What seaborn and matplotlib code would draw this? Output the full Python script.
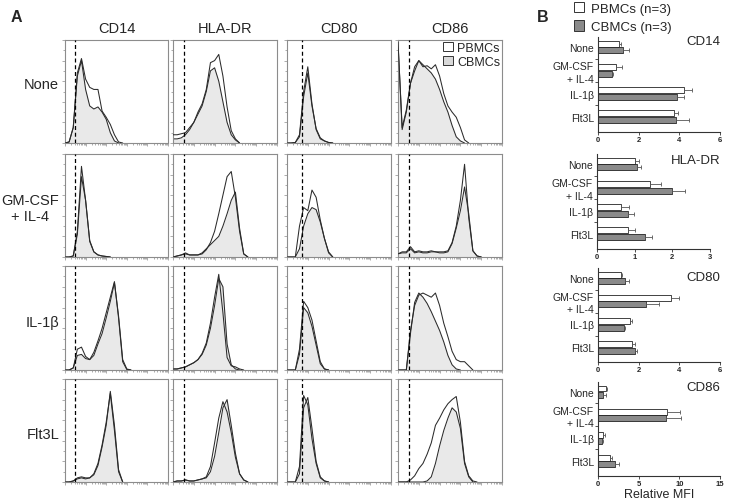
import numpy as np
import pandas as pd
import matplotlib
matplotlib.use("Agg")
import matplotlib.pyplot as plt
from matplotlib.patches import Patch
import seaborn as sns

# ---- panel A: histogram data (% of panel height) on a shared log-channel grid ----
channel = [0.00, 0.04, 0.08, 0.12, 0.16, 0.20, 0.24, 0.28, 0.32, 0.36, 0.40, 0.44, 0.48,
           0.52, 0.56, 0.60, 0.64, 0.68, 0.72, 0.76, 0.80, 0.84, 0.88, 0.92, 0.96, 1.00]
markers = ["CD14", "HLA-DR", "CD80", "CD86"]
isotype_gate = [0.097, 0.106, 0.145, 0.11]

# each list: [CD14, HLA-DR, CD80, CD86]
pbmc_none = [
    [0, 1, 15, 68, 82, 62, 54, 52, 52, 31, 25, 18, 8, 1, 0],
    [8, 8, 9, 10, 15, 20, 30, 38, 52, 78, 80, 86, 65, 35, 12, 4, 0],
    [0, 0, 0.5, 8, 50, 74, 38, 13, 4, 2, 0.5, 0],
    [98, 15, 32, 58, 70, 80, 74, 75, 72, 76, 65, 48, 36, 30, 25, 15, 3, 0],
]
cbmc_none = [
    [0, 1, 15, 65, 80, 52, 36, 33, 35, 30, 23, 10, 2, 0],
    [4, 4, 5, 8, 13, 20, 28, 36, 50, 70, 73, 60, 40, 20, 8, 3, 0],
    [0, 0, 0.5, 6, 45, 68, 36, 14, 5, 2, 0.5, 0],
    [98, 13, 30, 58, 74, 80, 76, 72, 68, 62, 52, 40, 30, 17, 6, 2, 0],
]
pbmc_gm = [
    [0, 0, 1, 25, 88, 55, 15, 5, 2, 1, 0.5, 0],
    [0, 1, 2, 4, 2, 2, 2, 3, 7, 14, 25, 42, 60, 78, 83, 58, 25, 3, 0],
    [0, 0, 0, 30, 48, 45, 65, 58, 36, 18, 4, 0],
    [3, 5, 5, 10, 5, 6, 5, 5, 6, 5, 5, 5, 6, 14, 30, 55, 90, 38, 6, 1, 0],
]
cbmc_gm = [
    [0, 0, 1, 22, 78, 55, 16, 5, 2, 1, 0.5, 0],
    [0, 1, 2, 3, 2, 2, 2, 4, 8, 12, 16, 20, 30, 42, 55, 63, 28, 3, 0],
    [0, 0, 0, 8, 30, 42, 48, 46, 34, 18, 5, 0],
    [3, 4, 4, 8, 4, 5, 4, 4, 5, 5, 4, 4, 5, 13, 28, 45, 68, 42, 6, 1, 0],
]
pbmc_il1b = [
    [0, 0, 2, 20, 22, 13, 10, 17, 28, 40, 55, 70, 85, 50, 8, 0.5, 0],
    [1, 1, 2, 3, 5, 7, 10, 16, 26, 45, 70, 92, 55, 12, 4, 3, 1, 0],
    [0, 0, 0, 20, 66, 60, 48, 28, 8, 1, 0],
    [0, 0, 0, 38, 62, 72, 74, 72, 70, 74, 62, 45, 32, 18, 10, 8, 8, 4, 0],
]
cbmc_il1b = [
    [0, 0, 2, 14, 15, 11, 10, 14, 25, 35, 50, 66, 84, 52, 10, 1, 0],
    [1, 1, 2, 3, 5, 7, 10, 15, 24, 40, 62, 88, 80, 25, 5, 1, 0],
    [0, 0, 0, 15, 60, 55, 42, 24, 6, 1, 0],
    [0, 0, 0, 35, 65, 74, 70, 64, 56, 47, 38, 27, 14, 5, 1, 0],
]
pbmc_flt3l = [
    [0, 0, 1, 4, 5, 4, 4, 8, 18, 36, 58, 86, 50, 10, 0],
    [0, 1, 1, 2, 1, 1, 2, 3, 5, 15, 38, 62, 78, 68, 48, 24, 8, 2, 0],
    [0, 0, 0, 15, 84, 75, 42, 18, 4, 1, 0],
    [0, 0, 0, 2, 6, 13, 18, 27, 38, 55, 62, 70, 76, 80, 83, 58, 20, 6, 1, 0],
]
cbmc_flt3l = [
    [0, 0, 1, 3, 4, 3, 4, 7, 16, 34, 55, 88, 55, 12, 0],
    [0, 1, 1, 2, 1, 1, 2, 3, 4, 10, 25, 48, 72, 80, 55, 28, 8, 2, 0],
    [0, 0, 0, 8, 72, 82, 52, 20, 5, 1, 0],
    [0, 0, 0, 0, 0, 0, 0, 1, 5, 18, 35, 50, 62, 72, 68, 52, 18, 5, 0],
]
row_labels = ["None", "GM-CSF\n+ IL-4", "IL-1\u03b2", "Flt3L"]

# ---- panel B: relative MFI (rows = CD14, HLA-DR, CD80, CD86) ----
treatments = ["None", "GM-CSF\n+ IL-4", "IL-1\u03b2", "Flt3L"]
pbmc_mfi = [[1.04, 0.87, 4.24, 3.73],
            [1.00, 1.40, 0.65, 0.83],
            [1.11, 3.57, 1.57, 1.66],
            [0.95, 8.47, 0.66, 1.49]]
pbmc_sem = [[0.08, 0.30, 0.36, 0.18],
            [0.12, 0.29, 0.20, 0.19],
            [0.09, 0.41, 0.12, 0.16],
            [0.21, 1.63, 0.21, 0.29]]
cbmc_mfi = [[1.23, 0.67, 3.87, 3.82],
            [1.05, 1.98, 0.81, 1.27],
            [1.31, 2.38, 1.28, 1.82],
            [0.66, 8.30, 0.54, 2.07]]
cbmc_sem = [[0.30, 0.07, 0.36, 0.67],
            [0.13, 0.36, 0.17, 0.20],
            [0.21, 0.62, 0.05, 0.08],
            [0.29, 1.95, 0.12, 0.53]]
mfi_max = [6, 3, 6, 15]
mfi_ticks = [[0, 2, 4, 6], [0, 1, 2, 3], [0, 2, 4, 6], [0, 5, 10, 15]]

W, H = 740, 502
LINE = "#2b2b2b"
FILL = "#e9e9e9"
SPINE = "#8c8c8c"
BAR_GREY = "#8a8a8a"

sns.set_theme(style="white")
plt.rcParams["font.family"] = ["Liberation Sans", "DejaVu Sans"]


def px_rect(l, t, r, b):
    return [l / W, 1 - b / H, (r - l) / W, (b - t) / H]


def ftext(x, y, s, **kw):
    fig.text(x / W, 1 - y / H, s, **kw)


fig = plt.figure(figsize=(7.4, 5.02), dpi=100)

# ---------------- panel A ----------------
cols_px = [(65, 168), (173, 277), (287, 391), (398, 502)]
rows_px = [(41, 144), (155, 258), (267, 371), (380, 483)]
hist_rows = [(pbmc_none, cbmc_none), (pbmc_gm, cbmc_gm),
             (pbmc_il1b, cbmc_il1b), (pbmc_flt3l, cbmc_flt3l)]

# log-decade style tick positions along the channel axis
dec_major = [0.0, 0.2, 0.4, 0.6, 0.8, 1.0]
dec_minor = [d + 0.2 * np.log10(k) for d in dec_major[:-1] for k in range(2, 10)]

for r, (pb, cb) in enumerate(hist_rows):
    for c in range(4):
        ax = fig.add_axes(px_rect(cols_px[c][0], rows_px[r][0], cols_px[c][1], rows_px[r][1]))
        xc = channel[:len(cb[c])]
        ax.fill_between(xc, cb[c], color=FILL, lw=0, zorder=1)
        sns.lineplot(x=xc, y=cb[c], ax=ax, color=LINE, lw=0.75, errorbar=None, zorder=2)
        sns.lineplot(x=channel[:len(pb[c])], y=pb[c], ax=ax, color=LINE, lw=0.75,
                     errorbar=None, zorder=3)
        ax.axvline(isotype_gate[c], color="black", lw=0.9, ls=(0, (3.2, 2.2)), zorder=4)
        ax.set_xlim(0, 1)
        ax.set_ylim(0, 100)
        ax.set_xticks(dec_major)
        ax.set_xticks(dec_minor, minor=True)
        ax.set_yticks(range(0, 101, 20))
        ax.set_yticks(range(10, 100, 20), minor=True)
        ax.tick_params(which="both", direction="out", color=SPINE, width=0.5,
                       labelbottom=False, labelleft=False, bottom=True, left=True)
        ax.tick_params(which="major", length=2.5)
        ax.tick_params(which="minor", length=1.3)
        for s in ax.spines.values():
            s.set_color(SPINE)
            s.set_linewidth(0.8)
        if r == 0:
            ftext((cols_px[c][0] + cols_px[c][1]) / 2, 29, markers[c],
                  ha="center", va="center", fontsize=10.5)
        if r == 0 and c == 3:
            ax.legend(handles=[Patch(fc="white", ec="#333333", lw=0.7, label="PBMCs"),
                               Patch(fc="#d9d9d9", ec="#333333", lw=0.7, label="CBMCs")],
                      loc="upper right", frameon=False, fontsize=9, handlelength=0.8,
                      handleheight=0.8, handletextpad=0.35, borderaxespad=0.05,
                      borderpad=0.1, labelspacing=0.15)

row_label_y = [85, 209, 323, 435]
for lbl, y in zip(row_labels, row_label_y):
    ftext(59, y, lbl, ha="right", va="center", fontsize=10.5, multialignment="center",
          linespacing=1.25)

ftext(11, 18, "A", fontsize=11.5, fontweight="bold", va="center", ha="left")

# ---------------- panel B ----------------
bar_rects = [(598, 37.5, 720, 132.5), (597, 154.5, 710, 249.5),
             (598, 268.5, 720, 363), (598, 382.5, 720, 476.5)]
title_y = [42, 161, 278, 388]

for i, m in enumerate(markers):
    ax = fig.add_axes(px_rect(*bar_rects[i]))
    df = pd.DataFrame({
        "treatment": treatments * 2,
        "mfi": pbmc_mfi[i] + cbmc_mfi[i],
        "cells": ["PBMCs"] * 4 + ["CBMCs"] * 4,
    })
    sns.barplot(data=df, x="mfi", y="treatment", hue="cells", orient="y",
                order=treatments, hue_order=["PBMCs", "CBMCs"],
                palette={"PBMCs": "white", "CBMCs": BAR_GREY}, saturation=1,
                edgecolor="#222222", linewidth=0.6, width=0.58, gap=0.12,
                errorbar=None, legend=False, ax=ax)
    for cont, sem in zip(ax.containers, [pbmc_sem[i], cbmc_sem[i]]):
        for bar, e in zip(cont, sem):
            yc = bar.get_y() + bar.get_height() / 2
            ax.errorbar(bar.get_width(), yc, xerr=[[0], [e]], fmt="none",
                        ecolor="#555555", elinewidth=0.6, capsize=1.6, capthick=0.6)
    ax.set_xlim(0, mfi_max[i])
    ax.set_ylim(3.63, -0.45)
    ax.set_xticks(mfi_ticks[i])
    ax.set_yticks([0.5, 1.5, 2.5], minor=True)
    ax.set_xlabel("")
    ax.set_ylabel("")
    sns.despine(ax=ax)
    for s in ("left", "bottom"):
        ax.spines[s].set_color("#333333")
        ax.spines[s].set_linewidth(0.8)
    ax.tick_params(axis="x", direction="out", length=2, width=0.6, color="#333333",
                   labelsize=5.5, pad=1, bottom=True)
    ax.tick_params(axis="y", which="major", length=0, labelsize=7.5, pad=3)
    ax.tick_params(axis="y", which="minor", direction="out", length=2, width=0.6,
                   color="#333333", left=True)
    for lbl in ax.get_xticklabels():
        lbl.set_fontweight("bold")
    for lbl in ax.get_yticklabels():
        lbl.set_multialignment("right")
        lbl.set_linespacing(1.3)
    ftext(720, title_y[i], m, ha="right", va="center", fontsize=9.5)

fig.legend(handles=[Patch(fc="white", ec="#333333", lw=0.7, label="PBMCs (n=3)"),
                    Patch(fc=BAR_GREY, ec="#333333", lw=0.7, label="CBMCs (n=3)")],
           loc="upper left", bbox_to_anchor=(566 / W, 1.01), frameon=False, fontsize=9.5,
           handlelength=0.8, handleheight=0.8, handletextpad=0.5, labelspacing=0.45,
           borderpad=0.1)

ftext(659, 501.5, "Relative MFI", ha="center", va="bottom", fontsize=9)
ftext(537, 18, "B", fontsize=11.5, fontweight="bold", va="center", ha="left")

fig.savefig("out.png", dpi=100)
